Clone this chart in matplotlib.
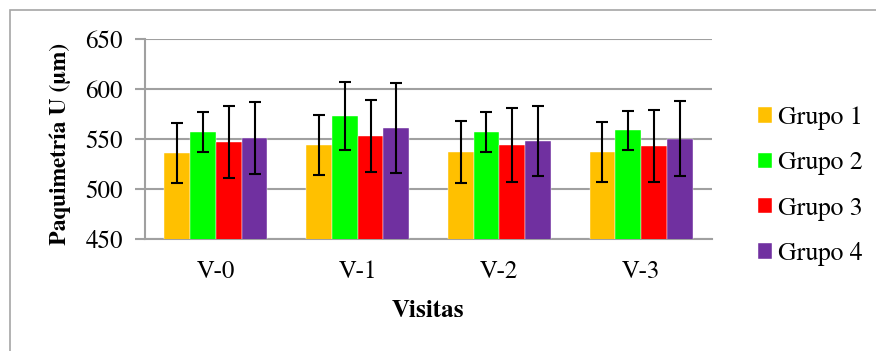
import matplotlib
matplotlib.use("Agg")
import matplotlib.pyplot as plt
import numpy as np
from matplotlib.patches import Rectangle

visitas = ["V-0", "V-1", "V-2", "V-3"]
grupos = ["Grupo 1", "Grupo 2", "Grupo 3", "Grupo 4"]
colores = ["#FFC000", "#00FF00", "#FF0000", "#7030A0"]

# media por grupo (una lista por grupo, valores por visita)
g1 = [536, 544, 537, 537]
g2 = [557, 573, 557, 559]
g3 = [547, 553.5, 544, 543.5]
g4 = [551, 561.5, 548, 550.5]
medias = [g1, g2, g3, g4]

# desviacion (barras de error)
e1 = [30, 30, 31, 30]
e2 = [20, 34, 20, 19.5]
e3 = [36, 36, 37, 36]
e4 = [36, 45, 35, 37.5]
errores = [e1, e2, e3, e4]

plt.rcParams["font.family"] = "serif"
plt.rcParams["font.serif"] = ["FreeSerif", "Liberation Serif", "DejaVu Serif"]

fig = plt.figure(figsize=(8.76, 3.51), dpi=100)
ax = fig.add_axes([145 / 876, 1 - 239 / 351, 567 / 876, 200 / 351])

# marco exterior del grafico
fig.patches.append(Rectangle((10 / 876, -0.1), 1.0, 1 - 10 / 351 + 0.1,
                             transform=fig.transFigure, fill=False,
                             edgecolor="#a6a6a6", lw=1.2))

x = np.arange(len(visitas))
w = 0.1817
for i in range(4):
    pos = x + (i - 1.5) * w
    ax.bar(pos, medias[i], w, bottom=0, color=colores[i], label=grupos[i],
           edgecolor="white", linewidth=0.3, zorder=3)
    ax.errorbar(pos, medias[i], yerr=errores[i], fmt="none", ecolor="black",
                elinewidth=1.5, capsize=4.3, capthick=1.5, zorder=4)

ax.set_ylim(450, 650)
ax.set_xlim(-0.5, 3.5)
ax.set_yticks([450, 500, 550, 600, 650])
ax.set_xticks(x)
ax.set_xticklabels(visitas)
ax.yaxis.grid(True, color="#a0a0a0", lw=1.5, zorder=0)
ax.set_axisbelow(True)
for s in ["top", "right"]:
    ax.spines[s].set_visible(False)
ax.spines["left"].set_color("#a0a0a0")
ax.spines["left"].set_linewidth(1.5)
ax.spines["bottom"].set_color("#a0a0a0")
ax.spines["bottom"].set_linewidth(1.5)
ax.tick_params(axis="y", colors="#a0a0a0", labelcolor="black", length=7,
               width=1.5, labelsize=18, pad=9)
ax.tick_params(axis="x", length=0, labelsize=18, pad=15)

fig.text(60 / 876, 1 - 144 / 351, "Paquimetría U (µm)", rotation=90,
         ha="center", va="center", fontsize=17, fontweight="bold")
fig.text(428 / 876, 1 - 311 / 351, "Visitas", ha="center", va="center",
         fontsize=18, fontweight="bold")

leg = ax.legend(loc="center left", bbox_to_anchor=(748 / 876, 1 - 186 / 351),
                bbox_transform=fig.transFigure, frameon=False, fontsize=18.5,
                handlelength=0.55, handleheight=0.55, handletextpad=0.2,
                labelspacing=0.83, borderaxespad=0)

fig.savefig("out.png", dpi=100)
